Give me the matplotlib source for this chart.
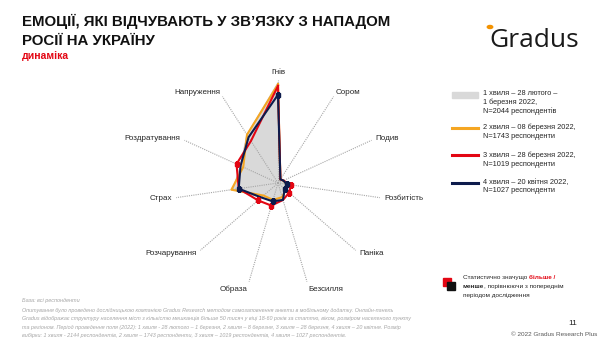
import numpy as np
import matplotlib
matplotlib.use('Agg')
import matplotlib.pyplot as plt
from matplotlib.patches import Rectangle
from matplotlib.lines import Line2D

plt.rcParams['font.family'] = ['Liberation Sans', 'DejaVu Sans']

# categories, clockwise from the top
emotions = ['Гнів', 'Сором', 'Подив', 'Розбитість', 'Паніка', 'Безсилля',
            'Образа', 'Розчарування', 'Страх', 'Роздратування', 'Напруження']

# share of respondents, %
wave1 = [68, 3, 4, 6, 7, 11, 12, 15, 31, 28, 39]
wave2 = [67, 3, 4, 6, 7, 10, 12, 13, 32, 26, 39]
wave3 = [66, 3, 4, 9, 10, 12, 16, 18, 27, 31, 34]
wave4 = [60, 3, 4, 6, 6, 12, 13, 15, 27, 28, 37]

# points flagged as statistically significant change
wave3_signif = ['Розбитість', 'Паніка', 'Образа', 'Розчарування', 'Роздратування']
wave4_signif = ['Гнів', 'Розбитість', 'Паніка', 'Образа', 'Страх']

legend_labels = ['1 хвиля – 28 лютого –\n1 березня 2022,\nN=2044 респондентів',
                 '2 хвиля – 08 березня 2022,\nN=1743 респонденти',
                 '3 хвиля – 28 березня 2022,\nN=1019 респонденти',
                 '4 хвиля – 20 квітня 2022,\nN=1027 респонденти']

RMAX = 70
GRAY = '#d9d9d9'
ORANGE = '#f5a623'
RED = '#e30613'
NAVY = '#0d1b4c'
TXT = '#262626'

fig = plt.figure(figsize=(6, 3.38), dpi=100)
renderer = fig.canvas.get_renderer()


def fy(py):
    return 1 - py / 338


def fx(px):
    return px / 600


def text_run(x, y, parts, **kw):
    # draw pieces of one line one after another
    for s, extra in parts:
        t = fig.text(fx(x), fy(y), s, va='baseline', **kw, **extra)
        x += t.get_window_extent(renderer).width


# ---- header
fig.text(fx(22), fy(26), 'ЕМОЦІЇ, ЯКІ ВІДЧУВАЮТЬ У ЗВ’ЯЗКУ З НАПАДОМ',
         fontsize=10.8, fontweight='bold', color='#111111', va='baseline')
fig.text(fx(22), fy(45), 'РОСІЇ НА УКРАЇНУ',
         fontsize=10.8, fontweight='bold', color='#111111', va='baseline')
fig.text(fx(22), fy(59), 'динаміка', fontsize=7.5, fontweight='bold',
         color=RED, va='baseline')
fig.text(fx(489), fy(47), 'Gradus', fontsize=19, family='Open Sans',
         color='#1a1a1a', va='baseline')
fig.patches.append(plt.Circle((fx(490), fy(27)), 0.0045, color='#f39200',
                              transform=fig.transFigure, figure=fig))

# ---- radar
ax = fig.add_axes([0.2917, 0.1538, 0.3433, 0.6095], projection='polar')
ax.set_theta_zero_location('N')
ax.set_theta_direction(-1)
ax.set_ylim(0, RMAX)
ax.set_xticks([])
ax.set_yticks([])
ax.grid(False)
ax.spines['polar'].set_visible(False)
ax.patch.set_alpha(0)

n = len(emotions)
theta = np.arange(n) * 2 * np.pi / n
tc = np.append(theta, theta[0])


def closed(v):
    return np.append(v, v[0])


ax.fill(tc, closed(wave1), color=GRAY, zorder=1)
ax.plot(tc, closed(wave1), color='#bfbfbf', lw=0.6, zorder=1.5)
for t in theta:
    ax.plot([t, t], [0, RMAX], color='#a6a6a6', lw=0.8, ls=(0, (1, 1)), zorder=2)

ax.plot(tc, closed(wave2), color=ORANGE, lw=1.5, zorder=3)
ax.plot(tc, closed(wave3), color=RED, lw=1.5, zorder=4)
ax.plot(tc, closed(wave4), color=NAVY, lw=1.5, zorder=5)

idx3 = [emotions.index(e) for e in wave3_signif]
idx4 = [emotions.index(e) for e in wave4_signif]
ax.plot(theta[idx3], np.array(wave3)[idx3], 's', color=RED, ms=3.5, zorder=6)
ax.plot(theta[idx4], np.array(wave4)[idx4], 's', color=NAVY, ms=3.5, zorder=7)

for t, lab in zip(theta, emotions):
    deg = np.degrees(t)
    if deg < 1:
        ha, va = 'center', 'bottom'
    elif deg < 150:
        ha, va = 'left', 'center'
    elif deg < 180:
        ha, va = 'left', 'top'
    elif deg < 210:
        ha, va = 'right', 'top'
    else:
        ha, va = 'right', 'center'
    ax.text(t, RMAX * 1.04, lab, ha=ha, va=va, fontsize=5.8, color=TXT)

# ---- legend
lx, ly = 483, [90, 124, 152, 179]
for lab, y in zip(legend_labels, ly):
    fig.text(fx(lx), fy(y), lab, fontsize=5.3, color=TXT, va='top',
             linespacing=1.25)
fig.patches.append(Rectangle((fx(452), fy(98)), fx(26), 6 / 338, color=GRAY,
                             transform=fig.transFigure, figure=fig))
for col, y in zip([ORANGE, RED, NAVY], [128, 155, 183]):
    fig.lines.append(Line2D([fx(452), fx(478)], [fy(y), fy(y)], color=col,
                            lw=2.2, transform=fig.transFigure, figure=fig))

# significance note
fig.patches.append(Rectangle((fx(443), fy(286)), 8 / 600, 8 / 338, color=RED,
                             transform=fig.transFigure, figure=fig))
fig.patches.append(Rectangle((fx(447), fy(290)), 8 / 600, 8 / 338, color='#111111',
                             transform=fig.transFigure, figure=fig))
note = dict(fontsize=4.6)
text_run(463, 279, [('Статистично значущо ', dict(color=TXT)),
                    ('більше /', dict(color=RED, fontweight='bold'))], **note)
text_run(463, 288, [('менше', dict(color=TXT, fontweight='bold')),
                    (', порівнюючи з попереднім', dict(color=TXT))], **note)
text_run(463, 297, [('періодом дослідження', dict(color=TXT))], **note)

# ---- footer
foot = '#a6a6a6'
fig.text(fx(22), fy(302), 'База: всі респонденти', fontsize=4.0, color=foot,
         style='italic', va='baseline')
footer_lines = [
    'Опитування було проведено дослідницькою компанією Gradus Research методом самозаповнення анкети в мобільному додатку. Онлайн-панель',
    'Gradus відображає структуру населення міст з кількістю мешканців більше 50 тисяч у віці 18-60 років за статтю, віком, розміром населеного пункту',
    'та регіоном. Період проведення поля (2022): 1 хвиля - 28 лютого – 1 березня, 2 хвиля – 8 березня, 3 хвиля – 28 березня, 4 хвиля – 20 квітня. Розмір',
    'вибірки: 1 хвиля - 2144 респондентів, 2 хвиля – 1743 респонденти, 3 хвиля – 1019 респондентів, 4 хвиля – 1027 респондентів.',
]
for i, line in enumerate(footer_lines):
    fig.text(fx(22), fy(312 + 8.3 * i), line, fontsize=3.9, color=foot,
             style='italic', va='baseline')

fig.text(fx(573), fy(325), '11', fontsize=6, color=TXT, va='baseline', ha='center')
fig.text(fx(597), fy(336), '© 2022 Gradus Research Plus', fontsize=4.6,
         color='#595959', va='baseline', ha='right')

fig.savefig('out.png', dpi=100)
